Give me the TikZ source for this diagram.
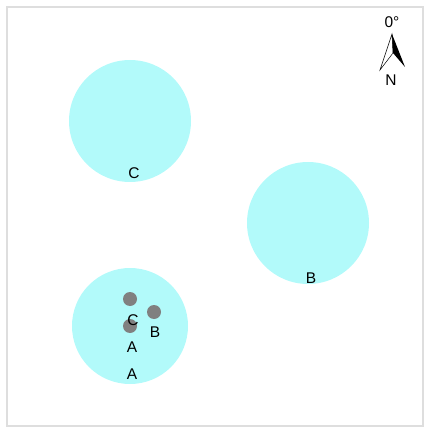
\documentclass[tikz,border=0pt]{standalone}
\usepackage{fontspec}
\setmainfont{Liberation Sans}
\definecolor{zonecyan}{RGB}{178,250,250}
\definecolor{framegray}{RGB}{222,222,222}
\begin{document}
\begin{tikzpicture}[x=1pt, y=-1pt,
    zone/.style={circle, fill=zonecyan, inner sep=0pt},
    spot/.style={circle, fill=gray, inner sep=0pt, minimum size=14},
    lbl/.style={inner sep=0pt, text=black, font=\fontsize{15.5}{18}\selectfont}]
            \useasboundingbox (0,0) rectangle (424,427);
            \draw[framegray, line width=1.5] (7,7) rectangle (423,426);

            \node[zone, minimum size=122] (zoneC) at (130,121) {};
            \node[zone, minimum size=122] (zoneB) at (308,223) {};
            \node[zone, minimum size=116] (zoneA) at (130,326) {};

            \node[spot] (spotC) at (130,299) {};
            \node[spot] (spotB) at (154,312) {};
            \node[spot] (spotA) at (130,326) {};

            \node[lbl] (labZoneC) at (134,173) {C};
            \node[lbl] (labZoneB) at (311,278) {B};
            \node[lbl] (labZoneA) at (132,374) {A};
            \node[lbl] (labSpotC) at (133,320) {C};
            \node[lbl] (labSpotB) at (155,332) {B};
            \node[lbl] (labSpotA) at (132,347) {A};

            % north arrow
            \node[lbl] (angle) at (392,22) {0°};
            \coordinate (nTip) at (392,34);
            \coordinate (nLeft) at (380,70);
            \coordinate (nNotch) at (393,53);
            \coordinate (nRight) at (405,67);
            \fill[black] (nTip) -- (nRight) -- (nNotch) -- cycle;
            \draw[black, line width=0.5] (nTip) -- (nLeft) -- (nNotch) -- cycle;
            \node[lbl] (north) at (391,80) {N};
        \end{tikzpicture}
\end{document}
